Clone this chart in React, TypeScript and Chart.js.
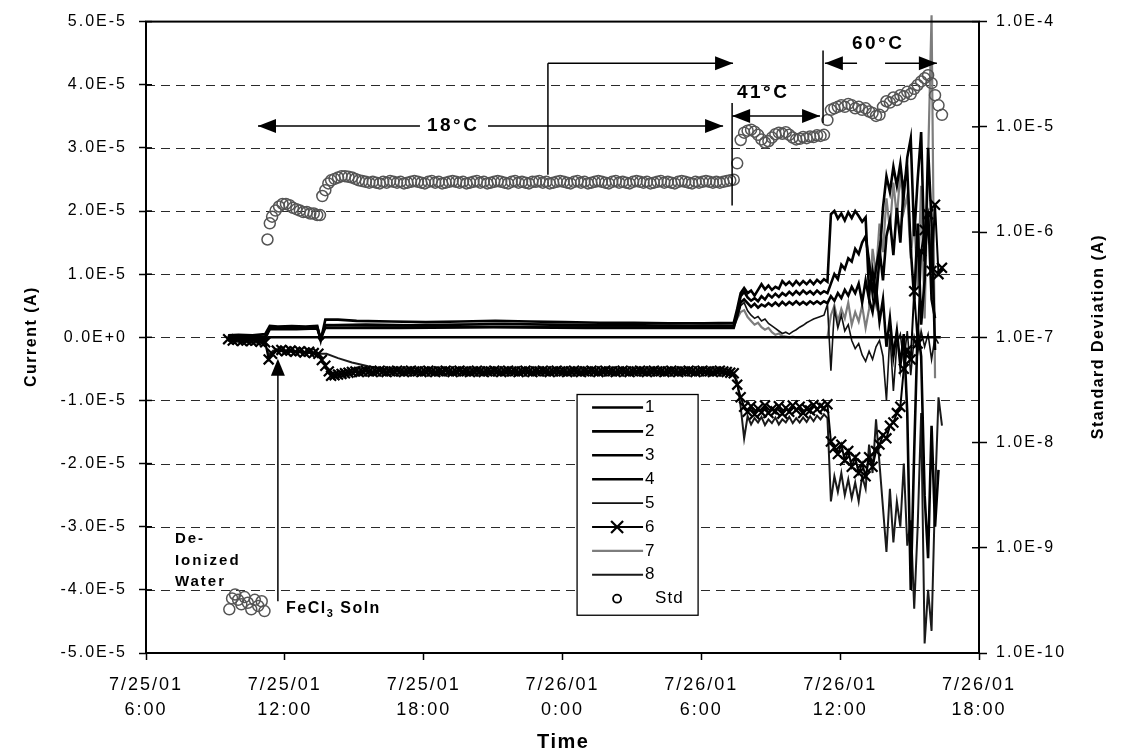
import React, { useEffect, useRef } from 'react';
import { Chart, registerables } from 'chart.js';

Chart.register(...registerables);

type Pair = [number, number];

// ---------------- axis ticks ----------------
const X_TICK_HOURS = [6, 12, 18, 24, 30, 36, 42];
const X_TICK_DATES = ['7/25/01', '7/25/01', '7/25/01', '7/26/01', '7/26/01', '7/26/01', '7/26/01'];
const X_TICK_TIMES = ['6:00', '12:00', '18:00', '0:00', '6:00', '12:00', '18:00'];
const CURRENT_TICKS = [-5e-5, -4e-5, -3e-5, -2e-5, -1e-5, 0, 1e-5, 2e-5, 3e-5, 4e-5, 5e-5];
const STD_TICKS = [1e-10, 1e-9, 1e-8, 1e-7, 1e-6, 1e-5, 1e-4];
const SERIES_NAMES = ['1', '2', '3', '4', '5', '6', '7', '8', 'Std'];

// ---------------- time grids (hours after 7/25/01 0:00) ----------------
const T_18 = [14.0, 14.15, 14.3, 14.45, 14.6, 14.75, 14.9, 15.05, 15.2, 15.35,
  15.5, 15.65, 15.8, 15.95, 16.1, 16.25, 16.4, 16.55, 16.7, 16.85,
  17.0, 17.15, 17.3, 17.45, 17.6, 17.75, 17.9, 18.05, 18.2, 18.35,
  18.5, 18.65, 18.8, 18.95, 19.1, 19.25, 19.4, 19.55, 19.7, 19.85,
  20.0, 20.15, 20.3, 20.45, 20.6, 20.75, 20.9, 21.05, 21.2, 21.35,
  21.5, 21.65, 21.8, 21.95, 22.1, 22.25, 22.4, 22.55, 22.7, 22.85,
  23.0, 23.15, 23.3, 23.45, 23.6, 23.75, 23.9, 24.05, 24.2, 24.35,
  24.5, 24.65, 24.8, 24.95, 25.1, 25.25, 25.4, 25.55, 25.7, 25.85,
  26.0, 26.15, 26.3, 26.45, 26.6, 26.75, 26.9, 27.05, 27.2, 27.35,
  27.5, 27.65, 27.8, 27.95, 28.1, 28.25, 28.4, 28.55, 28.7, 28.85,
  29.0, 29.15, 29.3, 29.45, 29.6, 29.75, 29.9, 30.05, 30.2, 30.35,
  30.5, 30.65, 30.8, 30.95, 31.1, 31.25, 31.4];
const T_41 = [31.55, 31.7, 31.85, 32.0, 32.15, 32.3, 32.45, 32.6, 32.75, 32.9,
  33.05, 33.2, 33.35, 33.5, 33.65, 33.8, 33.95, 34.1, 34.25, 34.4,
  34.55, 34.7, 34.85, 35.0, 35.15, 35.3, 35.45];
const T_60 = [35.6, 35.75, 35.9, 36.05, 36.2, 36.35, 36.5, 36.65, 36.8, 36.95,
  37.1, 37.25, 37.4, 37.55, 37.7, 37.85, 38.0, 38.15, 38.3, 38.45,
  38.6, 38.75, 38.9, 39.05, 39.2, 39.35, 39.5, 39.65, 39.8, 39.95,
  40.1, 40.25, 40.4];

// ---------------- current series (micro-amps) ----------------
const S1: Pair[] = [[9.55, -0.3], [10.4, -0.2], [11.15, -0.3], [11.3, 0.0], [13.45, 0.0], [13.55, -0.5], [13.7, 0.0], [22.0, 0.0], [31.45, 0.0], [35.5, 0.0], [40.35, 0.0]];

const S2_EARLY: Pair[] = [[9.55, 0.3], [10.0, 0.4], [10.6, 0.3], [11.15, 0.5], [11.35, 1.8], [11.7, 1.7], [12.3, 1.8], [12.9, 1.7], [13.4, 1.8], [13.55, -0.5], [13.75, 2.8], [14.3, 2.8], [15.1, 2.6], [16.6, 2.5], [18.1, 2.4], [19.6, 2.5], [21.1, 2.6], [22.6, 2.5], [24.1, 2.4], [25.6, 2.3], [27.1, 2.3], [28.6, 2.2], [30.1, 2.2], [31.4, 2.3]];
const S2_41 = [4.5, 7.0, 7.8, 7.0, 7.4, 6.6, 7.5, 8.4, 7.6, 8.2, 7.5, 8.0, 7.7, 8.9, 8.3, 8.8, 8.2, 8.9, 8.3, 8.9, 8.4, 9.0, 8.4, 9.1, 8.6, 9.2, 8.8];
const S2_60 = [19.5, 20.0, 18.8, 19.6, 18.5, 19.8, 18.9, 20.0, 19.2, 18.3, 19.0, 7.0, 10.5, 6.0, 12.5, 20.5, 25.5, 23.0, 27.0, 24.0, 27.5, 22.5, 28.5, 31.5, 16.0, 25.0, 32.5, 12.0, 20.0, 6.0, 3.0, null, null];

const S3_EARLY: Pair[] = [[9.55, 0.1], [10.3, 0.2], [11.15, 0.1], [11.35, 1.5], [12.5, 1.5], [13.4, 1.6], [13.55, -0.3], [13.75, 1.9], [15.5, 2.0], [17.5, 1.9], [19.5, 2.0], [21.5, 2.1], [23.5, 2.0], [25.5, 1.9], [27.5, 1.9], [29.5, 1.8], [31.4, 1.9]];
const S3_41 = [4.0, 6.5, 7.2, 6.3, 5.8, 6.2, 5.7, 6.5, 6.0, 6.8, 6.3, 6.9, 6.4, 7.0, 6.6, 7.2, 6.7, 7.3, 6.8, 7.4, 6.9, 7.3, 6.8, 7.4, 6.9, 7.3, 7.0];
const S3_60 = [8.5, 10.0, 9.2, 11.5, 10.8, 12.5, 12.0, 14.0, 13.2, 15.0, 16.0, 12.0, 7.0, 11.0, 14.0, 9.0, 16.0, 18.5, 13.0, 20.5, 15.0, 24.0, 26.5, 14.0, 6.0, 18.0, 2.0, 9.0, 30.0, 18.0, -2.0, null, null];

const S4_EARLY: Pair[] = [[9.55, -0.1], [10.5, 0.0], [11.15, -0.2], [11.35, 1.3], [12.5, 1.3], [13.4, 1.4], [13.55, -0.2], [13.75, 1.5], [17.0, 1.5], [21.0, 1.6], [25.0, 1.5], [29.0, 1.5], [31.4, 1.5]];
const S4_41 = [3.5, 5.5, 6.0, 5.4, 4.8, 5.3, 4.7, 5.2, 4.9, 5.4, 5.0, 5.5, 5.0, 5.6, 5.1, 5.6, 5.2, 5.7, 5.2, 5.6, 5.2, 5.7, 5.3, 5.7, 5.3, 5.7, 5.4];
const S4_60 = [6.5, 5.8, 7.0, 6.2, 7.5, 6.6, 8.0, 7.0, 8.5, 5.5, 9.0, 6.0, 4.0, 8.0, 2.5, 6.0, -1.5, 3.0, -3.0, 1.0, -4.5, 0.5, -12.0, -40.0, -18.0, 1.5, -3.0, -25.0, -35.0, -14.0, -30.0, -21.0, null];

const S5_EARLY: Pair[] = [[9.55, -0.4], [11.15, -0.5], [11.35, 1.6], [13.4, 1.6], [13.55, -0.4], [13.75, 2.0], [16.0, 1.8], [20.0, 1.7], [25.0, 1.7], [31.4, 1.7]];
const S5_41 = [3.0, 5.0, 5.5, 4.2, 3.5, 3.0, 3.3, 2.6, 2.9, 2.2, 1.8, 1.4, 1.0, 0.6, 0.8, 0.5, 0.9, 1.2, 1.6, 1.9, 2.3, 2.6, 2.9, 3.1, 3.3, 3.5, 5.2];
const S5_60 = [-5.3, 4.5, 1.5, 3.5, 1.0, 2.0, -0.5, -1.8, -1.0, -2.8, -3.8, -2.2, -3.5, -1.5, -0.5, -3.0, -10.0, 0.5, -8.5, -1.0, 0.5, -4.0, 1.0, -6.0, 0.0, -2.5, 1.0, -1.5, 0.5, -3.5, 0.0, -1.0, null];

const S6_EARLY: Pair[] = [[9.55, -0.3], [9.75, -0.5], [9.95, -0.4], [10.15, -0.6], [10.35, -0.5], [10.55, -0.6], [10.75, -0.5], [10.95, -0.7], [11.15, -0.8], [11.3, -3.5], [11.45, -2.6], [11.65, -2.1], [11.85, -2.0], [12.05, -2.2], [12.25, -2.1], [12.45, -2.3], [12.65, -2.2], [12.85, -2.4], [13.05, -2.3], [13.25, -2.5], [13.45, -2.6], [13.6, -3.6], [13.75, -4.5], [13.9, -5.4]];
const S6_18 = [-6.1, -6.0, -5.9, -5.8, -5.7, -5.6, -5.5, -5.4, -5.5, -5.4,
  -5.3, -5.4, -5.5, -5.4, -5.3, -5.4, -5.5, -5.4, -5.4, -5.3,
  -5.4, -5.5, -5.4, -5.3, -5.4, -5.4, -5.5, -5.4, -5.3, -5.4,
  -5.5, -5.4, -5.4, -5.3, -5.4, -5.5, -5.4, -5.3, -5.4, -5.4,
  -5.5, -5.4, -5.3, -5.4, -5.5, -5.4, -5.4, -5.3, -5.4, -5.5,
  -5.4, -5.3, -5.4, -5.4, -5.5, -5.4, -5.3, -5.4, -5.5, -5.4,
  -5.4, -5.3, -5.4, -5.5, -5.4, -5.3, -5.4, -5.4, -5.5, -5.4,
  -5.3, -5.4, -5.5, -5.4, -5.4, -5.3, -5.4, -5.5, -5.4, -5.3,
  -5.4, -5.4, -5.5, -5.4, -5.3, -5.4, -5.5, -5.4, -5.4, -5.3,
  -5.4, -5.5, -5.4, -5.3, -5.4, -5.4, -5.5, -5.4, -5.3, -5.4,
  -5.5, -5.4, -5.4, -5.3, -5.4, -5.5, -5.4, -5.3, -5.4, -5.4,
  -5.5, -5.4, -5.3, -5.4, -5.5, -5.6, -5.7];
const S6_41 = [-7.5, -9.5, -11.0, -11.8, -10.9, -12.2, -11.3, -11.9, -10.8, -12.0, -11.4, -11.7, -10.9, -12.1, -11.2, -11.8, -10.8, -11.5, -11.0, -12.0, -11.3, -11.6, -10.7, -11.4, -10.9, -11.2, -10.6];
const S6_60 = [-16.5, -17.5, -18.5, -17.0, -19.5, -18.0, -20.5, -19.0, -21.5, -20.0, -22.0, -19.0, -20.5, -18.0, -17.0, -15.5, -16.0, -14.0, -13.5, -12.0, -11.0, -5.0, -2.0, -3.5, 7.3, -1.0, 13.6, 17.0, 19.5, 10.5, 21.0, 10.0, 11.0];

const S7_EARLY: Pair[] = [[9.55, 0.2], [11.15, 0.0], [11.35, 1.4], [13.4, 1.4], [13.55, 0.0], [13.75, 1.7], [18.0, 1.6], [24.0, 1.6], [31.4, 1.6]];
const S7_41 = [3.0, 4.0, 4.3, 3.2, 2.6, 2.0, 2.3, 1.6, 1.2, 1.5, 0.8, 0.4, 0.6, 0.2, 0.1, 0.0, 0.1, 0.0, 0.0, 0.0, 0.0, 0.0, 0.0, 0.0, 0.0, 0.0, 0.0];
const S7_60 = [3.5, 5.0, 2.5, 4.5, 3.0, 5.5, 2.0, 4.0, 2.5, 5.0, 1.5, 4.5, 14.0, 10.0, 18.0, 13.5, 22.0, 17.0, 24.5, 19.0, 26.0, 20.0, 22.5, 12.5, 19.0, 8.0, 24.0, 3.0, 28.0, 51.0, -6.5, null, null];

const S8_EARLY: Pair[] = [[9.55, -0.6], [10.3, -0.8], [11.15, -0.9], [11.3, -2.8], [11.5, -2.1], [12.2, -2.3], [12.9, -2.4], [13.5, -2.6], [13.8, -2.6], [14.3, -3.3], [14.9, -4.0], [15.6, -4.6], [16.4, -5.1], [17.4, -5.5], [18.7, -5.8], [20.5, -5.7], [22.5, -5.6], [24.5, -5.7], [26.5, -5.6], [28.5, -5.7], [30.5, -5.6], [31.4, -5.8]];
const S8_41 = [-7.0, -11.0, -16.0, -12.5, -13.8, -12.8, -13.5, -12.6, -13.9, -13.0, -13.6, -12.7, -13.8, -13.0, -13.5, -12.6, -13.6, -12.8, -13.5, -12.7, -13.4, -12.5, -13.3, -12.4, -13.0, -12.2, -12.8];
const S8_60 = [-26.0, -22.0, -24.5, -21.5, -25.0, -22.5, -25.5, -23.0, -26.0, -22.0, -24.0, -17.0, -21.5, -13.0, -20.0, -27.0, -34.0, -24.0, -32.5, -26.0, -30.0, -20.0, -33.0, -29.0, -43.0, -30.0, -12.0, -48.5, -40.0, -46.5, -25.0, -9.5, -14.0];

// ---------------- standard deviation (A) ----------------
const STD_EARLY: Pair[] = [[9.6, 2.6e-10], [9.72, 3.3e-10], [9.85, 3.6e-10], [9.98, 3.2e-10], [10.12, 2.9e-10], [10.26, 3.4e-10], [10.4, 3.0e-10], [10.55, 2.6e-10], [10.7, 3.2e-10], [10.85, 2.8e-10], [11.0, 3.1e-10], [11.12, 2.5e-10],
  [11.25, 8.5e-7], [11.35, 1.21e-6], [11.45, 1.4e-6], [11.6, 1.6e-6], [11.75, 1.75e-6], [11.9, 1.85e-6], [12.05, 1.85e-6], [12.2, 1.8e-6], [12.35, 1.7e-6], [12.5, 1.65e-6], [12.65, 1.6e-6], [12.8, 1.55e-6], [12.95, 1.55e-6], [13.1, 1.5e-6], [13.25, 1.5e-6], [13.4, 1.45e-6], [13.52, 1.45e-6],
  [13.62, 2.2e-6], [13.75, 2.5e-6], [13.88, 2.9e-6]];
const STD_18 = [3.1e-6, 3.2e-6, 3.3e-6, 3.4e-6, 3.4e-6, 3.35e-6, 3.3e-6, 3.2e-6, 3.1e-6, 3.05e-6,
  3.0e-6, 2.95e-6, 3.0e-6, 2.95e-6, 2.9e-6, 3.0e-6, 2.95e-6, 3.05e-6, 3.0e-6, 2.95e-6,
  3.0e-6, 2.9e-6, 2.95e-6, 3.0e-6, 3.05e-6, 3.0e-6, 2.95e-6, 2.9e-6, 3.0e-6, 3.05e-6,
  2.95e-6, 3.0e-6, 2.9e-6, 2.95e-6, 3.0e-6, 3.05e-6, 3.0e-6, 2.95e-6, 3.0e-6, 2.9e-6,
  2.95e-6, 3.0e-6, 3.05e-6, 2.95e-6, 3.0e-6, 2.9e-6, 2.95e-6, 3.0e-6, 3.05e-6, 3.0e-6,
  2.95e-6, 2.9e-6, 3.0e-6, 3.05e-6, 2.95e-6, 3.0e-6, 2.95e-6, 2.9e-6, 3.0e-6, 3.0e-6,
  3.05e-6, 2.95e-6, 3.0e-6, 2.9e-6, 2.95e-6, 3.0e-6, 3.05e-6, 3.0e-6, 2.95e-6, 2.9e-6,
  3.0e-6, 3.05e-6, 2.95e-6, 3.0e-6, 2.9e-6, 2.95e-6, 3.0e-6, 3.05e-6, 3.0e-6, 2.95e-6,
  2.9e-6, 3.0e-6, 3.05e-6, 2.95e-6, 3.0e-6, 2.95e-6, 2.9e-6, 3.0e-6, 3.05e-6, 3.0e-6,
  2.95e-6, 3.0e-6, 2.9e-6, 2.95e-6, 3.0e-6, 3.05e-6, 2.95e-6, 3.0e-6, 2.95e-6, 2.9e-6,
  3.0e-6, 3.05e-6, 3.0e-6, 2.95e-6, 2.9e-6, 3.0e-6, 2.95e-6, 3.0e-6, 3.05e-6, 3.0e-6,
  2.95e-6, 3.0e-6, 2.95e-6, 3.0e-6, 3.05e-6, 3.1e-6, 3.15e-6];
const STD_41 = [4.5e-6, 7.5e-6, 8.8e-6, 9.2e-6, 9.4e-6, 9.0e-6, 8.4e-6, 7.6e-6, 7.1e-6, 7.3e-6,
  7.9e-6, 8.5e-6, 8.8e-6, 8.6e-6, 8.9e-6, 8.4e-6, 7.9e-6, 7.6e-6, 7.7e-6, 8.0e-6,
  7.8e-6, 8.1e-6, 8.0e-6, 8.3e-6, 8.2e-6, 8.4e-6, 1.16e-5];
const STD_60 = [1.45e-5, 1.5e-5, 1.55e-5, 1.6e-5, 1.55e-5, 1.65e-5, 1.6e-5, 1.5e-5, 1.55e-5, 1.45e-5,
  1.5e-5, 1.4e-5, 1.35e-5, 1.27e-5, 1.3e-5, 1.55e-5, 1.75e-5, 1.7e-5, 1.9e-5, 1.8e-5,
  2.0e-5, 1.95e-5, 2.15e-5, 2.05e-5, 2.3e-5, 2.5e-5, 2.7e-5, 2.9e-5, 3.1e-5, 2.6e-5,
  2.0e-5, 1.6e-5, 1.3e-5];

// ---------------- helpers ----------------
const FONT = 'Arial, "Liberation Sans", Helvetica, sans-serif';

function merge(early: Pair[], ...segs: [number[], (number | null)[]][]): Pair[] {
  const out: Pair[] = early.slice();
  segs.forEach(([t, v]) => {
    t.forEach((h, i) => {
      const val = v[i];
      if (val !== null && val !== undefined) out.push([h, val]);
    });
  });
  return out;
}
const toPts = (pairs: Pair[], k: number) => pairs.map(([h, v]) => ({ x: h, y: v * k }));

const LINE_STYLES = [
  { color: '#000000', width: 2.6 },
  { color: '#000000', width: 2.6 },
  { color: '#000000', width: 2.6 },
  { color: '#000000', width: 2.6 },
  { color: '#111111', width: 1.6 },
  { color: '#000000', width: 2.0 },
  { color: '#7d7d7d', width: 2.2 },
  { color: '#1a1a1a', width: 2.0 },
];

function head(ctx: CanvasRenderingContext2D, tx: number, ty: number, ux: number, uy: number, len = 18, hw = 7) {
  const bx = tx - ux * len;
  const by = ty - uy * len;
  const px = -uy;
  const py = ux;
  ctx.beginPath();
  ctx.moveTo(tx, ty);
  ctx.lineTo(bx + px * hw, by + py * hw);
  ctx.lineTo(bx - px * hw, by - py * hw);
  ctx.closePath();
  ctx.fill();
}

function seg(ctx: CanvasRenderingContext2D, x1: number, y1: number, x2: number, y2: number) {
  ctx.beginPath();
  ctx.moveTo(x1, y1);
  ctx.lineTo(x2, y2);
  ctx.stroke();
}

function txt(ctx: CanvasRenderingContext2D, s: string, x: number, y: number, font: string, spacing: number, align: CanvasTextAlign = 'center') {
  ctx.save();
  ctx.font = font;
  (ctx as any).letterSpacing = spacing + 'px';
  ctx.textAlign = align;
  ctx.textBaseline = 'middle';
  ctx.fillStyle = '#000';
  ctx.fillText(s, align === 'center' ? x + spacing / 2 : x, y);
  ctx.restore();
}

const decorPlugin = {
  id: 'decor',
  beforeDraw(chart: any) {
    const ctx = chart.ctx as CanvasRenderingContext2D;
    ctx.save();
    ctx.fillStyle = '#ffffff';
    ctx.fillRect(0, 0, chart.width, chart.height);
    ctx.restore();
    (ctx as any).letterSpacing = '2px';
  },
  beforeDatasetsDraw(chart: any) {
    const ctx = chart.ctx as CanvasRenderingContext2D;
    const ca = chart.chartArea;
    const ys = chart.scales.y;
    ctx.save();
    ctx.strokeStyle = '#2a2a2a';
    ctx.lineWidth = 1.2;
    ctx.setLineDash([9, 6]);
    CURRENT_TICKS.forEach((v) => {
      if (Math.abs(v) > 4.5e-5) return;
      const y = Math.round(ys.getPixelForValue(v)) + 0.5;
      seg(ctx, ca.left, y, ca.right, y);
    });
    ctx.restore();
  },
  afterDatasetsDraw(chart: any) {
    const ctx = chart.ctx as CanvasRenderingContext2D;
    const ca = chart.chartArea;
    const xs = chart.scales.x;
    const ys = chart.scales.y;
    const y2 = chart.scales.y2;
    const X = (h: number) => xs.getPixelForValue(h);
    const Y = (v: number) => ys.getPixelForValue(v);

    ctx.save();
    ctx.strokeStyle = '#000';
    ctx.fillStyle = '#000';
    ctx.lineWidth = 1.5;
    ctx.setLineDash([]);

    // 18 C double arrow
    const y18 = Y(3.346e-5);
    seg(ctx, X(10.84), y18, X(17.84), y18);
    seg(ctx, X(20.78), y18, X(30.94), y18);
    head(ctx, X(10.84), y18, -1, 0);
    head(ctx, X(30.94), y18, 1, 0);

    // bent arrow to the 41 C step
    const yTop = Y(4.339e-5);
    seg(ctx, X(23.37), Y(2.575e-5), X(23.37), yTop);
    seg(ctx, X(23.37), yTop, X(31.37), yTop);
    head(ctx, X(31.37), yTop, 1, 0);

    // vertical divider at 41 C start
    seg(ctx, X(31.33), Y(3.709e-5), X(31.33), Y(2.087e-5));

    // 41 C double arrow
    const y41 = Y(3.504e-5);
    seg(ctx, X(31.33), y41, X(35.13), y41);
    head(ctx, X(31.33), y41, -1, 0);
    head(ctx, X(35.13), y41, 1, 0);

    // vertical divider at 60 C start
    seg(ctx, X(35.26), Y(4.543e-5), X(35.26), Y(3.394e-5));

    // 60 C arrows
    seg(ctx, X(35.34), yTop, X(36.73), yTop);
    head(ctx, X(35.34), yTop, -1, 0);
    seg(ctx, X(37.94), yTop, X(40.18), yTop);
    head(ctx, X(40.18), yTop, 1, 0);

    // FeCl3 arrow
    const fx = X(11.7);
    seg(ctx, fx, Y(-4.181e-5), fx, Y(-0.591e-5));
    head(ctx, fx, Y(-0.339e-5), 0, -1, 17, 7);
    ctx.restore();

    // annotation texts
    const bold19 = 'bold 19px ' + FONT;
    txt(ctx, '18°C', X(19.22), y18, bold19, 2.5);
    txt(ctx, '41°C', X(32.62), Y(3.866e-5), bold19, 2.5);
    txt(ctx, '60°C', X(37.59), Y(4.654e-5), bold19, 2.5);

    const bold15 = 'bold 15px ' + FONT;
    txt(ctx, 'De-', X(7.25), Y(-3.19e-5), bold15, 2, 'left');
    txt(ctx, 'Ionized', X(7.25), Y(-3.535e-5), bold15, 2, 'left');
    txt(ctx, 'Water', X(7.25), Y(-3.866e-5), bold15, 2, 'left');

    // FeCl3 Soln label with subscript
    ctx.save();
    (ctx as any).letterSpacing = '1.5px';
    ctx.fillStyle = '#000';
    ctx.textAlign = 'left';
    ctx.textBaseline = 'alphabetic';
    const lx = X(12.05);
    const base = Y(-4.276e-5) + 6;
    ctx.font = 'bold 16px ' + FONT;
    ctx.fillText('FeCl', lx, base);
    let w = ctx.measureText('FeCl').width;
    ctx.font = 'bold 11px ' + FONT;
    ctx.fillText('3', lx + w, base + 4);
    w += ctx.measureText('3').width;
    ctx.font = 'bold 16px ' + FONT;
    ctx.fillText(' Soln', lx + w, base);
    ctx.restore();

    // legend
    const L = X(24.63);
    const R = X(29.86);
    const T = Y(-0.906e-5);
    const B = Y(-4.402e-5);
    ctx.save();
    ctx.fillStyle = '#fff';
    ctx.fillRect(L, T, R - L, B - T);
    ctx.strokeStyle = '#000';
    ctx.lineWidth = 1.3;
    ctx.strokeRect(L, T, R - L, B - T);
    SERIES_NAMES.forEach((name, i) => {
      const yy = T + 13 + i * 23.9;
      ctx.setLineDash([]);
      if (i < 8) {
        const st = LINE_STYLES[i];
        ctx.strokeStyle = st.color;
        ctx.lineWidth = st.width;
        seg(ctx, L + 15, yy, L + 66, yy);
        if (i === 5) {
          ctx.lineWidth = 2.2;
          ctx.strokeStyle = '#000';
          const r = 6;
          seg(ctx, L + 40 - r, yy - r, L + 40 + r, yy + r);
          seg(ctx, L + 40 - r, yy + r, L + 40 + r, yy - r);
        }
      } else {
        ctx.strokeStyle = '#000';
        ctx.lineWidth = 1.8;
        ctx.beginPath();
        ctx.arc(L + 40, yy, 4, 0, Math.PI * 2);
        ctx.stroke();
      }
      txt(ctx, name, i < 8 ? L + 68 : L + 78, yy, '17px ' + FONT, 1, 'left');
    });
    ctx.restore();

    // plot frame and inner tick marks
    ctx.save();
    ctx.strokeStyle = '#000';
    ctx.lineWidth = 2;
    ctx.strokeRect(ca.left, ca.top, ca.right - ca.left, ca.bottom - ca.top);
    ctx.lineWidth = 1.5;
    CURRENT_TICKS.forEach((v) => {
      const yy = Y(v);
      seg(ctx, ca.left, yy, ca.left + 6, yy);
    });
    STD_TICKS.forEach((v) => {
      const yy = y2.getPixelForValue(v);
      seg(ctx, ca.right - 7, yy, ca.right, yy);
    });
    ctx.restore();
  },
  afterDraw(chart: any) {
    const ctx = chart.ctx as CanvasRenderingContext2D;
    const ca = chart.chartArea;
    const midY = (ca.top + ca.bottom) / 2;
    ctx.save();
    ctx.translate(32, midY);
    ctx.rotate(-Math.PI / 2);
    txt(ctx, 'Current (A)', 0, 0, 'bold 16px ' + FONT, 1.5);
    ctx.restore();
    ctx.save();
    ctx.translate(1099, midY);
    ctx.rotate(-Math.PI / 2);
    txt(ctx, 'Standard Deviation (A)', 0, 0, 'bold 16px ' + FONT, 1.5);
    ctx.restore();
    txt(ctx, 'Time', (ca.left + ca.right) / 2, 742, 'bold 20px ' + FONT, 1.5);
  },
};

export default function App() {
  const ref = useRef<HTMLCanvasElement | null>(null);

  useEffect(() => {
    if (!ref.current) return;
    const lines = [
      S1,
      merge(S2_EARLY, [T_41, S2_41], [T_60, S2_60]),
      merge(S3_EARLY, [T_41, S3_41], [T_60, S3_60]),
      merge(S4_EARLY, [T_41, S4_41], [T_60, S4_60]),
      merge(S5_EARLY, [T_41, S5_41], [T_60, S5_60]),
      merge(S6_EARLY, [T_18, S6_18], [T_41, S6_41], [T_60, S6_60]),
      merge(S7_EARLY, [T_41, S7_41], [T_60, S7_60]),
      merge(S8_EARLY, [T_41, S8_41], [T_60, S8_60]),
    ];
    const std = merge(STD_EARLY, [T_18, STD_18], [T_41, STD_41], [T_60, STD_60]);

    const datasets: any[] = lines.map((pairs, i) => ({
      label: SERIES_NAMES[i],
      data: toPts(pairs, 1e-6),
      yAxisID: 'y',
      borderColor: LINE_STYLES[i].color,
      backgroundColor: LINE_STYLES[i].color,
      borderWidth: LINE_STYLES[i].width,
      pointRadius: i === 5 ? 7 : 0,
      pointStyle: 'crossRot',
      pointBorderWidth: 2.2,
      pointBorderColor: '#000',
      tension: 0,
      order: i === 5 ? 0 : 2,
      clip: i === 6 ? false : undefined,
    }));
    datasets.push({
      label: 'Std',
      data: std.map(([h, v]) => ({ x: h, y: v })),
      yAxisID: 'y2',
      showLine: false,
      pointStyle: 'circle',
      pointRadius: 5.5,
      pointBorderWidth: 1.5,
      pointBorderColor: '#555555',
      pointBackgroundColor: 'rgba(255,255,255,0)',
      borderColor: '#555555',
      backgroundColor: 'rgba(255,255,255,0)',
      order: 1,
    });

    const tickFont = { family: FONT, size: 16 };
    const chart = new Chart(ref.current, {
      type: 'line',
      data: { datasets },
      options: {
        animation: false,
        responsive: false,
        events: [],
        layout: { padding: { top: 18, left: 0, right: 0, bottom: 0 } },
        plugins: { legend: { display: false }, tooltip: { enabled: false } },
        scales: {
          x: {
            type: 'linear',
            min: 6,
            max: 42,
            afterBuildTicks: (s: any) => { s.ticks = X_TICK_HOURS.map((v) => ({ value: v })); },
            afterFit: (s: any) => { s.height = 103; },
            ticks: {
              autoSkip: false,
              maxRotation: 0,
              minRotation: 0,
              padding: 12,
              color: '#000',
              font: { family: FONT, size: 18, lineHeight: 1.4 },
              callback: (_v: any, i: number) => [X_TICK_DATES[i], X_TICK_TIMES[i]],
            },
            grid: { drawOnChartArea: false, drawTicks: true, tickLength: 7, tickColor: '#000', tickWidth: 1.5 },
            border: { display: false },
          },
          y: {
            type: 'linear',
            position: 'left',
            min: -5e-5,
            max: 5e-5,
            afterBuildTicks: (s: any) => { s.ticks = CURRENT_TICKS.map((v) => ({ value: v })); },
            afterFit: (s: any) => { s.width = 146; },
            ticks: {
              padding: 12,
              color: '#000',
              font: tickFont,
              callback: (v: any) => Number(v).toExponential(1).toUpperCase(),
            },
            grid: { drawOnChartArea: false, drawTicks: true, tickLength: 7, tickColor: '#000', tickWidth: 1.5 },
            border: { display: false },
          },
          y2: {
            type: 'logarithmic',
            position: 'right',
            min: 1e-10,
            max: 1e-4,
            afterBuildTicks: (s: any) => { s.ticks = STD_TICKS.map((v) => ({ value: v })); },
            afterFit: (s: any) => { s.width = 143; },
            ticks: {
              padding: 9,
              color: '#000',
              font: tickFont,
              callback: (v: any) => Number(v).toExponential(1).toUpperCase(),
            },
            grid: { drawOnChartArea: false, drawTicks: true, tickLength: 8, tickColor: '#000', tickWidth: 1.5 },
            border: { display: false },
          },
        },
      } as any,
      plugins: [decorPlugin as any],
    });
    return () => chart.destroy();
  }, []);

  return (
    <div style={{ position: 'absolute', left: 0, top: 0, width: 1122, height: 756, background: '#fff' }}>
      <canvas ref={ref} width={1122} height={756} style={{ display: 'block' }} />
    </div>
  );
}
